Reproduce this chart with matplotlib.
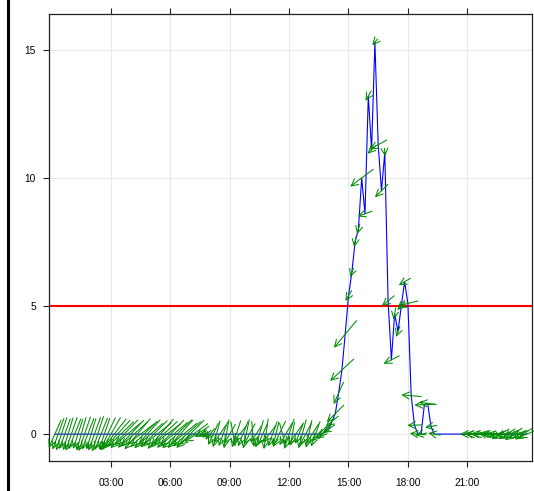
import matplotlib
matplotlib.use("Agg")
import matplotlib.pyplot as plt
import numpy as np
from matplotlib.lines import Line2D

# ---------------- data (10-minute steps, 00:10 .. 24:00) ----------------
hours = [(i + 1) / 6.0 for i in range(144)]

values = [
    # 00:10 - 13:40 (i 0..81)
    0, 0, 0, 0, 0, 0, 0, 0, 0, 0, 0, 0, 0, 0, 0, 0, 0, 0, 0, 0,
    0, 0, 0, 0, 0, 0, 0, 0, 0, 0, 0, 0, 0, 0, 0, 0, 0, 0, 0, 0,
    0, 0, 0, 0, 0, 0, 0, 0, 0, 0, 0, 0, 0, 0, 0, 0, 0, 0, 0, 0,
    0, 0, 0, 0, 0, 0, 0, 0, 0, 0, 0, 0, 0, 0, 0, 0, 0, 0, 0, 0,
    0, 0,
    # 13:50 - 19:10 (i 82..114)
    0.15, 0.2, 0.5, 0.8, 1.6, 2.5, 3.9, 5.4, 6.3, 7.5, 8.0, 10.0, 8.6,
    13.2, 11.1, 15.3, 11.3, 9.5, 11.0, 5.2, 2.9, 4.7, 4.0, 5.0, 5.95,
    5.1, 1.5, 0.35, 0, 0, 1.15, 1.2, 0.3,
    # 19:20 - 24:00 (i 115..143)
    0, 0, 0, 0, 0, 0, 0, 0, 0, 0, 0, 0, 0, 0, 0, 0, 0, 0, 0, 0,
    0, 0, 0, 0, 0, 0, 0, 0, 0,
]

nan = float("nan")
wind_speed = [
    # 00:10-03:00
    3.8, 4.1, 4.3, 4.0, 4.2, 4.4, 4.1, 3.9, 4.3, 4.5, 4.2, 4.0, 4.4, 4.6, 4.3, 4.1, 4.5, 4.7,
    # 03:10-07:30
    4.8, 4.6, 4.4, 4.9, 4.2, 4.7, 4.5, 5.0, 4.3, 4.6, 4.8, 4.1, 4.7, 4.4, 4.9, 4.6, 4.2, 4.8,
    4.5, 5.1, 4.7, 4.3, 4.6, 4.9, 4.4, 3.6,
    # 07:40-08:10
    1.5, 1.2, 1.4, 1.8,
    # 08:20-13:40
    3.0, 3.4, 2.7, 3.2, 3.6, 2.8, 3.1, 3.5, 2.6, 3.3, 3.7, 2.9, 3.2, 2.4, 3.5, 3.0, 3.8, 2.7,
    3.3, 3.1, 3.6, 2.8, 3.2, 3.9, 3.0, 3.4, 2.6, 3.7, 3.1, 3.5, 2.9, 3.3, 2.5,
    # 13:50-19:20
    2.0, 2.4, 1.8, 2.0, 3.0, 3.0, 4.0, 4.4, 1.5, 1.2, 1.3, 1.3, 3.6, 1.9, 1.4, 1.4, 1.0, 2.4,
    2.3, 1.0, 2.0, 2.2, 1.5, 1.4, 1.4, 1.7, 2.6, 2.5, 1.8, 2.0, 1.5, 2.5, 2.2, 1.5, 1.5,
    # 19:30-20:50 (calm / missing)
    nan, nan, nan, nan, nan, nan, nan, nan, nan,
    # 21:00-24:00
    1.8, 1.5, 2.0, 1.6, 1.9, 1.4, 1.7, 2.0, 1.6, 2.2, 2.5, 2.0, 2.4, 2.1, 2.6, 2.3, 2.0, 2.5, 2.2,
]
wind_dir = [
    24, 20, 18, 20, 17, 19, 22, 18, 16, 19, 21, 17, 20, 18, 22, 19, 25, 30,
    38, 42, 46, 44, 50, 43, 48, 40, 53, 46, 42, 49, 45, 52, 41, 47, 53, 44,
    50, 46, 42, 51, 48, 45, 54, 58,
    60, 70, 50, 40,
    25, 15, 35, 20, 10, 30, 350, 18, 40, 22, 12, 28, 355, 33, 16, 24, 8, 38,
    20, 14, 26, 345, 30, 18, 10, 35, 22, 15, 28, 12, 32, 20, 45,
    60, 40, 55, 50, 45, 24, 47, 40, 30, 20, 10, 15, 53, 70, 30, 45, 40, 62,
    45, 355, 50, 63, 10, 20, 45, 60, 76, 95, 88, 95, 80, 88, 97, 80, 100,
    nan, nan, nan, nan, nan, nan, nan, nan, nan,
    90, 100, 85, 95, 80, 105, 90, 85, 100, 70, 60, 75, 58, 65, 55, 70, 62, 57, 68,
]

threshold = 5
xtick_pos = [3, 6, 9, 12, 15, 18, 21]
xtick_labels = ["03:00", "06:00", "09:00", "12:00", "15:00", "18:00", "21:00"]
ytick_pos = [0, 5, 10, 15]

# ---------------- figure ----------------
W, H = 534, 491
fig = plt.figure(figsize=(W / 100, H / 100), dpi=100)
ax = fig.add_axes([49 / W, 30 / H, 483 / W, 447 / H])
ax.set_xlim(-0.13, 24.27)
ax.set_ylim(-1.05, 16.4)

ax.set_axisbelow(True)
ax.grid(True, color="#E8E8E8", lw=0.8)
ax.set_xticks(xtick_pos)
ax.set_xticklabels(xtick_labels)
ax.set_yticks(ytick_pos)
for lab in ax.get_xticklabels() + ax.get_yticklabels():
    lab.set_fontfamily("Liberation Sans")
    lab.set_fontsize(7.3)
ax.tick_params(direction="out", length=4.5, width=0.8, color="#222222",
               top=True, labeltop=False, right=False, pad=4)
ax.tick_params(axis="y", pad=5)
ax.tick_params(axis="x", pad=8)
for s in ax.spines.values():
    s.set_color("#222222")
    s.set_linewidth(0.9)

ax.axhline(threshold, color="#FF0000", lw=1.5, zorder=2)
ax.plot(hours, values, color="#0000FF", lw=0.8, zorder=3)

# wind arrows, centred on each observation
px_per_ms = 8.0
tr = ax.transData
inv = tr.inverted()
for t, v, ws, wd in zip(hours, values, wind_speed, wind_dir):
    if np.isnan(ws):
        continue
    cx, cy = tr.transform((t, v))
    L = ws * px_per_ms
    dx = -np.sin(np.radians(wd)) * L
    dy = -np.cos(np.radians(wd)) * L
    head = inv.transform((cx + dx / 2, cy + dy / 2))
    tail = inv.transform((cx - dx / 2, cy - dy / 2))
    ax.annotate("", xy=head, xytext=tail, xycoords="data", textcoords="data",
                arrowprops=dict(arrowstyle="->,head_length=0.5,head_width=0.25",
                                color="#008C00", lw=0.75, shrinkA=0, shrinkB=0,
                                mutation_scale=10),
                zorder=4)

fig.add_artist(Line2D([8 / W, 8 / W], [0, 1], color="black", lw=2.2,
                      transform=fig.transFigure))

fig.savefig("out.png", dpi=100)
